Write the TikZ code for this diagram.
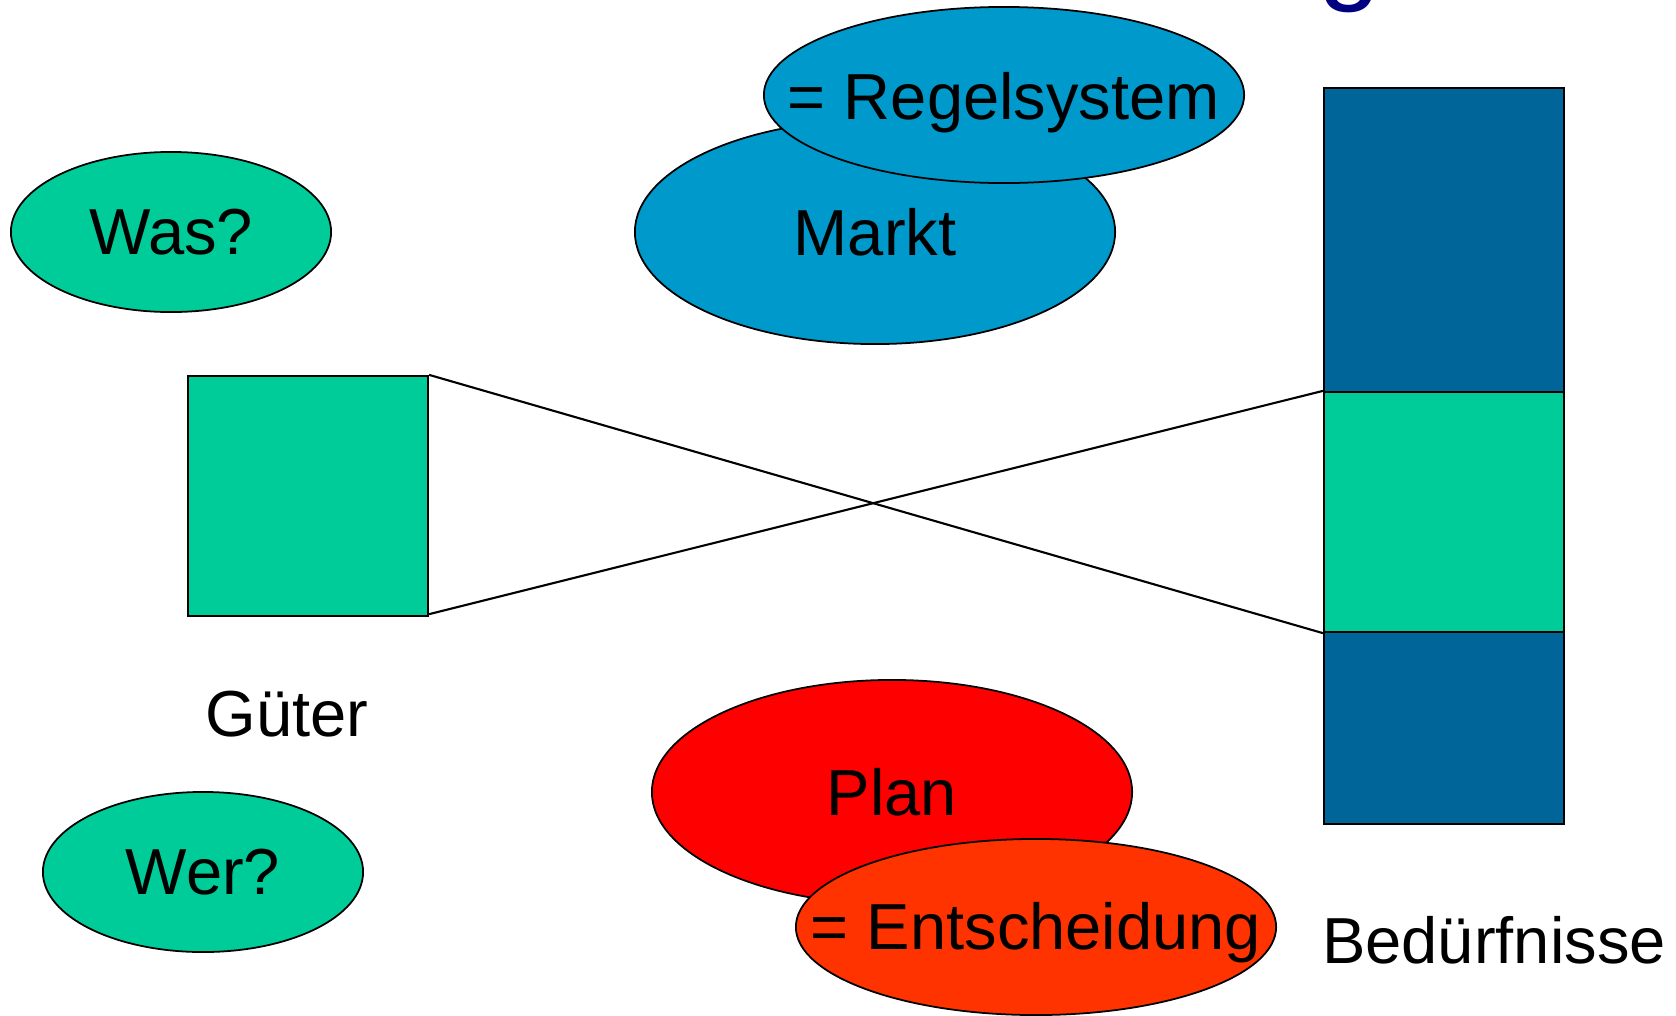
\documentclass[tikz,border=0pt]{standalone}
\usepackage{fontspec}
\setmainfont{Liberation Sans}
\usepackage{tikz}
\usetikzlibrary{shapes.geometric}

\definecolor{gruen}{RGB}{0,204,153}
\definecolor{hellblau}{RGB}{0,153,204}
\definecolor{dunkelblau}{RGB}{0,102,153}
\definecolor{rot}{RGB}{255,0,0}
\definecolor{orangerot}{RGB}{255,51,0}
\definecolor{titelblau}{RGB}{0,0,128}

\begin{document}
\begin{tikzpicture}[x=0.01cm, y=-0.01cm,
    oval/.style={draw, ellipse, line width=0.5pt, inner sep=0pt, minimum width=4.8cm},
    feld/.style={draw, rectangle, line width=0.6pt, inner sep=0pt, minimum width=2.4cm},
    every node/.style={font=\fontsize{18.5}{22}\selectfont}]
    \useasboundingbox (0,0) rectangle (1676,1015);
    % Titelrest oben
    \node[anchor=base west, text=titelblau, inner sep=0pt, font=\fontsize{32}{36}\selectfont] (titel) at (1318,-11) {g};
    % Fragen
    \node[oval, fill=gruen, minimum width=3.2cm, minimum height=1.6cm] (was) at (171,232) {Was?};
    \node[oval, fill=gruen, minimum width=3.2cm, minimum height=1.6cm] (wer) at (203,872) {Wer?};
    % Markt
    \node[oval, fill=hellblau, minimum height=2.24cm] (markt) at (875,232) {Markt};
    \node[oval, fill=hellblau, minimum height=1.76cm] (regel) at (1004,95) {};
    \node (regeltext) at ([yshift=-0.08cm]regel.center) {= Regelsystem};
    % Plan
    \node[oval, fill=rot, minimum height=2.24cm] (plan) at (892,792) {Plan};
    \node[oval, fill=orangerot, minimum height=1.76cm] (entsch) at (1036,927) {};
    \node (entschtext) at ([yshift=-0.06cm]entsch.center) {= Entscheidung};
    % Gueter
    \node[feld, fill=gruen, minimum height=2.4cm] (gueter) at (308,496) {};
    \node (gueterlabel) at (287,714) {Güter};
    % Beduerfnisse
    \node[feld, fill=dunkelblau, minimum height=3.04cm] (oben) at (1444,240) {};
    \node[feld, fill=gruen, minimum height=2.4cm] (mitte) at (1444,512) {};
    \node[feld, fill=dunkelblau, minimum height=1.92cm] (unten) at (1444,728) {};
    \node (bedlabel) at (1494,940) {Bedürfnisse};
    % Verbindungen
    \draw[line width=0.6pt] (gueter.north east) -- (mitte.south west);
    \draw[line width=0.6pt] ([yshift=0.03cm]gueter.south east) -- (mitte.north west);
\end{tikzpicture}
\end{document}
